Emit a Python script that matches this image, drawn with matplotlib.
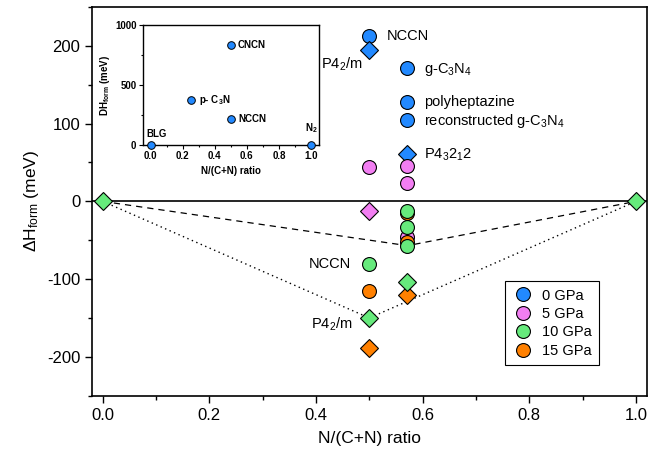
import numpy as np
import matplotlib.pyplot as plt

plt.rcParams['font.family'] = ['Liberation Sans', 'DejaVu Sans']
plt.rcParams['mathtext.fontset'] = 'custom'
plt.rcParams['mathtext.rm'] = 'Liberation Sans'
plt.rcParams['mathtext.it'] = 'Liberation Sans:italic'
plt.rcParams['mathtext.bf'] = 'Liberation Sans:bold'
plt.rcParams['axes.unicode_minus'] = False

# donnees (N/(C+N), meV)
blue_circ_x = [0.5, 4/7, 4/7, 4/7]
blue_circ_y = [213, 172, 128, 105]
blue_dia_x = [0.5, 4/7]
blue_dia_y = [195, 61]

pink_circ_x = [0.5, 4/7, 4/7, 4/7]
pink_circ_y = [44, 45, 23, -46]
pink_dia_x = [0.5]
pink_dia_y = [-12]

orange_circ_x = [4/7, 4/7, 0.5]
orange_circ_y = [-15, -52, -115]
orange_dia_x = [4/7, 0.5]
orange_dia_y = [-121, -188]

green_circ_x = [4/7, 4/7, 4/7, 0.5]
green_circ_y = [-12, -33, -57, -80]
green_dia_x = [0.0, 1.0, 4/7, 0.5]
green_dia_y = [0, 0, -104, -150]

# enveloppes convexes
hull_dash_x = [0.0, 4/7, 1.0]
hull_dash_y = [0, -57, 0]
hull_dot_x = [0.0, 0.5, 1.0]
hull_dot_y = [0, -150, 0]

# encart
ins_x = [0.0, 0.25, 0.5, 0.5, 1.0]
ins_y = [0, 375, 214, 836, 0]

c_blue = '#2289ff'
c_pink = '#f27ef2'
c_green = '#66ea7c'
c_orange = '#ff8000'

fig = plt.figure(figsize=(6.63, 4.55), dpi=100)
ax = fig.add_axes([0.1388, 0.1303, 0.8366, 0.8543])

ax.axhline(0, color='black', lw=1.2, zorder=1)
ax.plot(hull_dash_x, hull_dash_y, color='black', ls=(0, (5, 4)), lw=0.9, zorder=2)
ax.plot(hull_dot_x, hull_dot_y, color='black', ls=(0, (1, 2.5)), lw=1.0, zorder=2)

mc = dict(ls='none', marker='o', ms=10, mec='black', mew=0.8, zorder=3)
md = dict(ls='none', marker='D', ms=9, mec='black', mew=0.8, zorder=3)
ax.plot(blue_circ_x, blue_circ_y, mfc=c_blue, label='0 GPa', **mc)
ax.plot(blue_dia_x, blue_dia_y, mfc=c_blue, **md)
ax.plot(pink_circ_x, pink_circ_y, mfc=c_pink, label='5 GPa', **mc)
ax.plot(pink_dia_x, pink_dia_y, mfc=c_pink, **md)
ax.plot(orange_circ_x, orange_circ_y, mfc=c_orange, **mc)
ax.plot(orange_dia_x, orange_dia_y, mfc=c_orange, **md)
ax.plot(green_circ_x, green_circ_y, mfc=c_green, **mc)
ax.plot(green_dia_x, green_dia_y, mfc=c_green, clip_on=False, **md)

# legende dans l'ordre des pressions
h = ax.get_legend_handles_labels()[0]
hg, = ax.plot([], [], mfc=c_green, **mc)
ho, = ax.plot([], [], mfc=c_orange, **mc)
leg = ax.legend([h[0], h[1], hg, ho], ['0 GPa', '5 GPa', '10 GPa', '15 GPa'],
                loc='lower right', bbox_to_anchor=(0.914, 0.079), fontsize=10.5,
                fancybox=False, edgecolor='black', framealpha=1, labelspacing=0.3,
                handletextpad=0.6, borderpad=0.5, handlelength=1.4, borderaxespad=0)
leg.get_frame().set_linewidth(0.8)

fs = 10.5
ax.text(0.532, 213, 'NCCN', fontsize=fs, va='center')
ax.text(0.487, 176, 'P4$_2$/m', fontsize=fs, va='center', ha='right')
ax.text(0.602, 170, 'g-C$_3$N$_4$', fontsize=fs, va='center')
ax.text(0.602, 128, 'polyheptazine', fontsize=fs, va='center')
ax.text(0.602, 103, 'reconstructed g-C$_3$N$_4$', fontsize=fs, va='center')
ax.text(0.602, 60, 'P4$_3$2$_1$2', fontsize=fs, va='center')
ax.text(0.466, -81, 'NCCN', fontsize=fs, va='center', ha='right')
ax.text(0.468, -158, 'P4$_2$/m', fontsize=fs, va='center', ha='right')

ax.set_xlim(-0.02, 1.02)
ax.set_ylim(-250, 250)
ax.set_xticks(np.arange(0, 1.01, 0.2))
ax.set_xticks(np.arange(0, 1.01, 0.1), minor=True)
ax.set_yticks([-200, -100, 0, 100, 200])
ax.set_yticks(np.arange(-250, 251, 50), minor=True)
ax.set_xticklabels(['0.0', '0.2', '0.4', '0.6', '0.8', '1.0'])
ax.tick_params(labelsize=12, direction='out', length=5, width=1)
ax.tick_params(which='minor', length=3, width=1)
for s in ax.spines.values():
    s.set_linewidth(1.2)
ax.set_xlabel('N/(C+N) ratio', fontsize=12.5, labelpad=6)
ax.set_ylabel('ΔH$_{\\rm form}$ (meV)', fontsize=12.5, labelpad=4)

# encart
axi = fig.add_axes([0.2152, 0.681, 0.2659, 0.2637])
axi.plot(ins_x, ins_y, ls='none', marker='o', ms=5.5, mfc=c_blue, mec='black',
         mew=0.7, clip_on=False, zorder=3)
fi = 7
axi.text(0.54, 836, 'CNCN', fontsize=fi, fontweight='bold', va='center')
axi.text(0.30, 375, 'p- C$_\\mathbf{3}$N', fontsize=fi, fontweight='bold', va='center')
axi.text(0.545, 214, 'NCCN', fontsize=fi, fontweight='bold', va='center')
axi.text(0.037, 92, 'BLG', fontsize=fi, fontweight='bold', ha='center', va='center')
axi.text(1.0, 142, 'N$_\\mathbf{2}$', fontsize=fi, fontweight='bold', ha='center', va='center')
axi.set_xlim(-0.05, 1.05)
axi.set_ylim(0, 1000)
axi.set_xticks(np.arange(0, 1.01, 0.2))
axi.set_xticks(np.arange(0, 1.01, 0.1), minor=True)
axi.set_xticklabels(['0.0', '0.2', '0.4', '0.6', '0.8', '1.0'])
axi.set_yticks([0, 500, 1000])
axi.set_yticks([250, 750], minor=True)
axi.tick_params(labelsize=fi, direction='out', length=3, width=0.8, pad=1.5)
axi.tick_params(which='minor', length=1.5, width=0.8)
for lab in axi.get_xticklabels() + axi.get_yticklabels():
    lab.set_fontweight('bold')
for s in axi.spines.values():
    s.set_linewidth(1.0)
axi.set_xlabel('N/(C+N) ratio', fontsize=fi, fontweight='bold', labelpad=3)
axi.set_ylabel('DH$_{\\mathbf{form}}$ (meV)', fontsize=fi, fontweight='bold', labelpad=2)

plt.savefig('out.png', dpi=100)
